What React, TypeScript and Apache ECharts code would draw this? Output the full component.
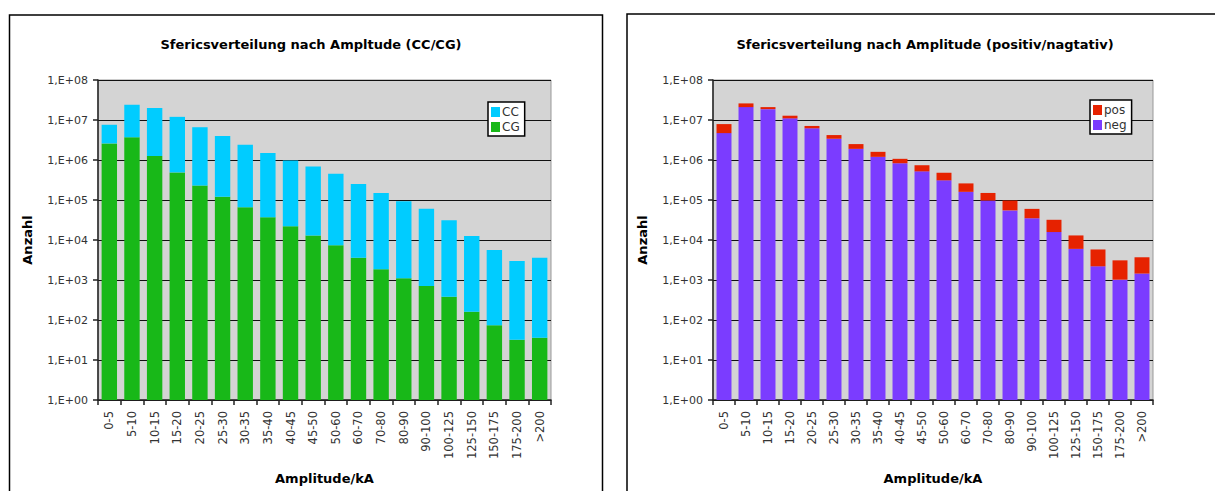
import React, { useEffect, useRef } from "react";
import * as echarts from "echarts";

const categories = [
  "0-5", "5-10", "10-15", "15-20", "20-25", "25-30", "30-35", "35-40", "40-45", "45-50",
  "50-60", "60-70", "70-80", "80-90", "90-100", "100-125", "125-150", "150-175", "175-200", ">200",
];

// Left chart: CG (bottom) and CC (stacked on top)
const cgValues = [
  2600000, 3700000, 1250000, 490000, 230000, 120000, 66000, 37000, 22000, 13000,
  7400, 3600, 1850, 1100, 710, 380, 160, 74, 32, 36,
];
const ccValues = [
  5000000, 20300000, 18750000, 11500000, 6370000, 3880000, 2330000, 1460000, 950000, 677000,
  443000, 246000, 148000, 92000, 59300, 30600, 12500, 5530, 2970, 3560,
];

// Right chart: neg (bottom) and pos (stacked on top)
const negValues = [
  4700000, 21000000, 18700000, 11000000, 6200000, 3400000, 1900000, 1200000, 830000, 520000,
  310000, 160000, 97000, 55000, 35000, 15800, 6000, 2200, 1020, 1450,
];
const posValues = [
  3200000, 5000000, 2300000, 1800000, 900000, 800000, 600000, 400000, 240000, 220000,
  170000, 100000, 53000, 42000, 25000, 16200, 7000, 3600, 2080, 2250,
];

const yTickLabels = ["1,E+00", "1,E+01", "1,E+02", "1,E+03", "1,E+04", "1,E+05", "1,E+06", "1,E+07", "1,E+08"];

const titles = [
  "Sfericsverteilung nach Ampltude (CC/CG)",
  "Sfericsverteilung nach Amplitude (positiv/nagtativ)",
];

const FONT = "DejaVu Sans";

export default function App() {
  const ref = useRef<HTMLDivElement>(null);

  useEffect(() => {
    if (!ref.current) return;
    const chart = echarts.init(ref.current, undefined, { renderer: "svg" });

    const yAxisBase = (gridIndex: number) => ({
      type: "log" as const,
      gridIndex,
      min: 1,
      max: 100000000,
      logBase: 10,
      interval: 1,
      name: "Anzahl",
      nameLocation: "middle" as const,
      nameGap: 64,
      nameTextStyle: { fontFamily: FONT, fontSize: 13, fontWeight: "bold" as const, color: "#000" },
      axisLine: { show: true, lineStyle: { color: "#222", width: 1.5 } },
      axisTick: { show: true, length: 5, lineStyle: { color: "#222", width: 1.5 } },
      axisLabel: {
        margin: 10,
        fontFamily: FONT,
        fontSize: 11,
        color: "#333",
        formatter: (v: number) => yTickLabels[Math.round(Math.log10(v))] ?? "",
      },
      splitLine: { show: true, lineStyle: { color: "#111", width: 1.2 } },
    });

    const xAxisBase = (gridIndex: number) => ({
      type: "category" as const,
      gridIndex,
      data: categories,
      boundaryGap: true,
      name: "Amplitude/kA",
      nameLocation: "middle" as const,
      nameGap: 72,
      nameTextStyle: { fontFamily: FONT, fontSize: 13, fontWeight: "bold" as const, color: "#000" },
      axisLine: { show: true, lineStyle: { color: "#222", width: 1.5 } },
      axisTick: { show: true, length: 5, alignWithLabel: false, lineStyle: { color: "#222", width: 1.5 } },
      axisLabel: {
        interval: 0,
        rotate: 90,
        margin: 11,
        fontFamily: FONT,
        fontSize: 11.5,
        color: "#333",
      },
    });

    const legendBase = {
      orient: "vertical" as const,
      itemWidth: 9,
      itemHeight: 10,
      itemGap: 3,
      padding: [4, 5, 3, 3],
      backgroundColor: "#fff",
      borderColor: "#000",
      borderWidth: 1.5,
      borderRadius: 0,
      icon: "rect",
      textStyle: { fontFamily: FONT, fontSize: 12, color: "#333", padding: [0, 0, 0, -3] },
    };

    chart.setOption({
      animation: false,
      backgroundColor: "#fff",
      graphic: [
        { type: "rect", shape: { x: 9.5, y: 15, width: 593, height: 500 }, style: { fill: "none", stroke: "#000", lineWidth: 1.5 }, silent: true, z: -10 },
        { type: "rect", shape: { x: 627, y: 14, width: 600, height: 500 }, style: { fill: "none", stroke: "#000", lineWidth: 1.5 }, silent: true, z: -10 },
      ],
      title: [
        { text: titles[0], left: 306, top: 33, textAlign: "center", textStyle: { fontFamily: FONT, fontSize: 13, fontWeight: "bold", color: "#000" } },
        { text: titles[1], left: 920, top: 33, textAlign: "center", textStyle: { fontFamily: FONT, fontSize: 13, fontWeight: "bold", color: "#000" } },
      ],
      legend: [
        { ...legendBase, data: ["CC", "CG"], left: 488, top: 102 },
        { ...legendBase, data: ["pos", "neg"], left: 1090, top: 100 },
      ],
      grid: [
        { left: 98, right: 664, top: 80, bottom: 91, show: true, backgroundColor: "#d4d4d4", borderColor: "#999", borderWidth: 1 },
        { left: 713, right: 62, top: 80, bottom: 91, show: true, backgroundColor: "#d4d4d4", borderColor: "#999", borderWidth: 1 },
      ],
      xAxis: [xAxisBase(0), xAxisBase(1)],
      yAxis: [yAxisBase(0), yAxisBase(1)],
      series: [
        { name: "CG", type: "bar", xAxisIndex: 0, yAxisIndex: 0, stack: "a", data: cgValues, barCategoryGap: "32%", itemStyle: { color: "#18b818" } },
        { name: "CC", type: "bar", xAxisIndex: 0, yAxisIndex: 0, stack: "a", data: ccValues, barCategoryGap: "32%", itemStyle: { color: "#00ccff" } },
        { name: "neg", type: "bar", xAxisIndex: 1, yAxisIndex: 1, stack: "b", data: negValues, barCategoryGap: "32%", itemStyle: { color: "#7b3cff" } },
        { name: "pos", type: "bar", xAxisIndex: 1, yAxisIndex: 1, stack: "b", data: posValues, barCategoryGap: "32%", itemStyle: { color: "#e62200" } },
      ],
    });

    return () => chart.dispose();
  }, []);

  return <div ref={ref} style={{ position: "absolute", left: 0, top: 0, width: 1215, height: 491 }} />;
}
